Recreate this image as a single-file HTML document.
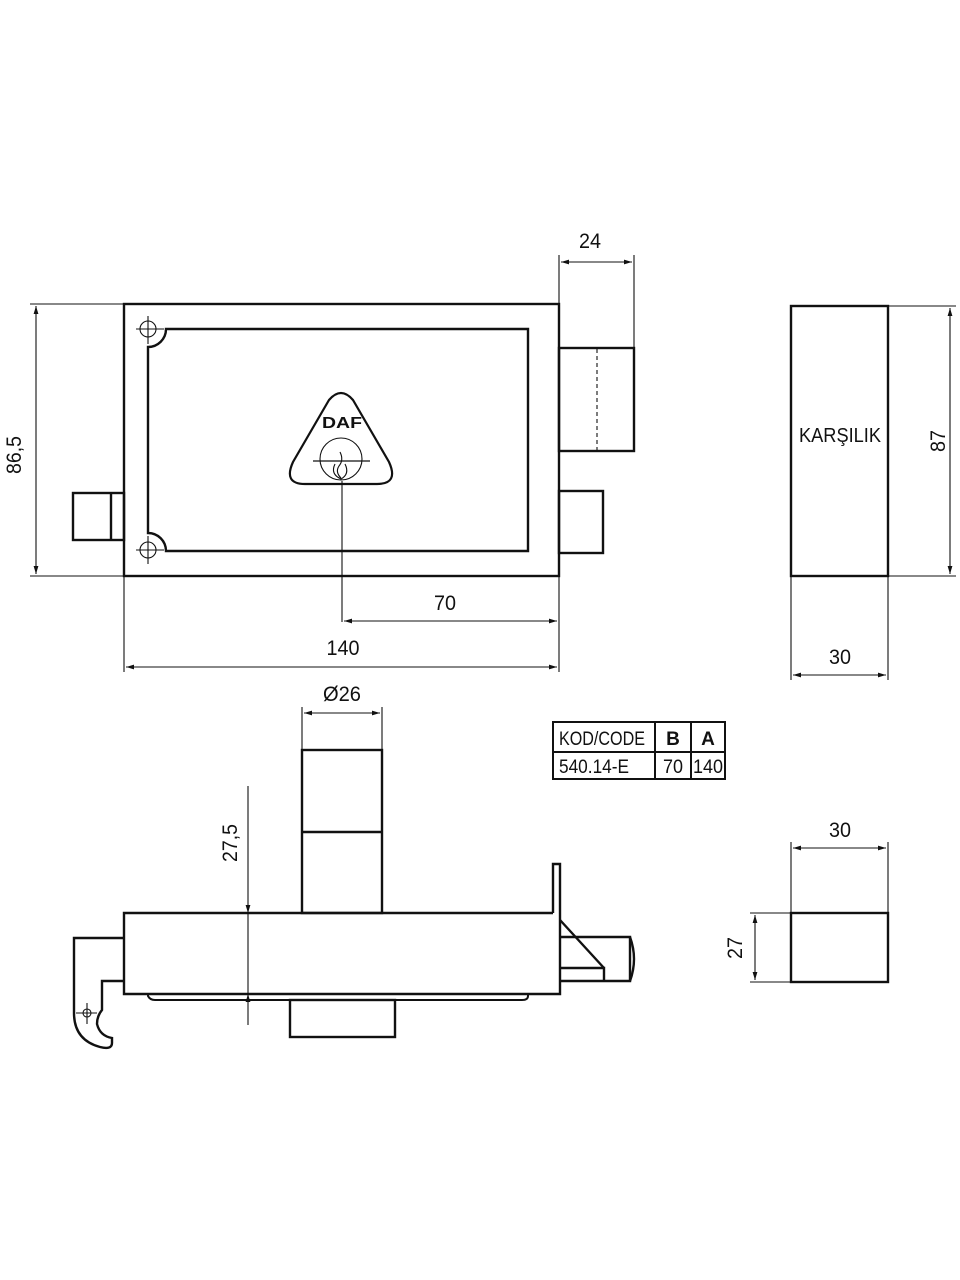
<!DOCTYPE html>
<html><head><meta charset="utf-8"><style>
html,body{margin:0;padding:0;background:#fff}
svg{display:block}
text{font-family:"Liberation Sans",sans-serif;fill:#111}
</style></head><body>
<svg width="960" height="1280" viewBox="0 0 960 1280" xmlns="http://www.w3.org/2000/svg">
<defs>
<marker id="a" viewBox="0 0 10 10" refX="10" refY="5" markerWidth="10" markerHeight="8" orient="auto-start-reverse" markerUnits="userSpaceOnUse"><path d="M0,2 L10,5 L0,8 z" fill="#111"/></marker>
</defs>
<g fill="none" stroke="#111" stroke-width="2.4">
<!-- top view -->
<rect x="124" y="304" width="435" height="272"/>
<path d="M166,329 H528 V551 H166 A18,18 0 0 0 148,533 V347 A18,18 0 0 0 166,329 Z"/>
<rect x="73" y="493" width="51" height="47"/>
<line x1="111" y1="493" x2="111" y2="540"/>
<rect x="559" y="348" width="75" height="103"/>
<rect x="559" y="491" width="44" height="62"/>
<path d="M329,400 Q341,386 353,400 L389,462 Q399,484 377,484 L305,484 Q283,484 293,462 Z" stroke-width="2.2"/>
<!-- karsilik -->
<rect x="791" y="306" width="97" height="270"/>
<!-- bottom view -->
<rect x="302" y="750" width="80" height="163"/>
<line x1="302" y1="832" x2="382" y2="832"/>
<path d="M553,913 H124 V994 H560 V864 H553 V913"/>
<path d="M148,994 V996 Q150,1000 155,1000 H522 Q528,1000 528,996 V994" stroke-width="2"/>
<rect x="290" y="1000" width="105" height="37"/>
<path d="M560,937 H630 V981 H560"/>
<path d="M630,937 Q638,959 630,981"/>
<path d="M560,968 H604 V981"/>
<path d="M560,920 L604,968"/>
<path d="M124,938 H74 V1013 Q74,1040 100,1047 Q112,1050 112,1043 V1038 Q100,1036 97,1024 Q97,1016 102,1010 V981 H124"/>
<rect x="791" y="913" width="97" height="69"/>
<!-- table -->
<rect x="553" y="722" width="172" height="57" stroke-width="2"/>
<line x1="553" y1="752" x2="725" y2="752" stroke-width="2"/>
<line x1="655" y1="722" x2="655" y2="779" stroke-width="2"/>
<line x1="691" y1="722" x2="691" y2="779" stroke-width="2"/>
</g>
<g fill="none" stroke="#111" stroke-width="1.1">
<circle cx="148" cy="329" r="8"/><line x1="136" y1="329" x2="164" y2="329"/><line x1="148" y1="316" x2="148" y2="344"/>
<circle cx="148" cy="550" r="8"/><line x1="136" y1="550" x2="164" y2="550"/><line x1="148" y1="536" x2="148" y2="564"/>
<circle cx="341" cy="459" r="21"/><line x1="313" y1="461" x2="370" y2="461" stroke-width="1.3"/>
<path d="M340,452 Q344,460 339,466 Q335,472 341,478 M335,464 Q330,474 341,479 Q350,474 345,464"/>
<line x1="597" y1="349" x2="597" y2="451" stroke-dasharray="4,3"/>
<line x1="342" y1="481" x2="342" y2="622"/>
<circle cx="87" cy="1013" r="4"/><line x1="76" y1="1013" x2="97" y2="1013"/><line x1="87" y1="1003" x2="87" y2="1024"/>
<!-- dims -->
<line x1="30" y1="304" x2="124" y2="304"/><line x1="30" y1="576" x2="124" y2="576"/>
<line x1="36" y1="306" x2="36" y2="574" marker-start="url(#a)" marker-end="url(#a)"/>
<line x1="559" y1="255" x2="559" y2="304"/><line x1="634" y1="255" x2="634" y2="348"/>
<line x1="561" y1="262" x2="632" y2="262" marker-start="url(#a)" marker-end="url(#a)"/>
<line x1="559" y1="576" x2="559" y2="672"/><line x1="124" y1="576" x2="124" y2="672"/>
<line x1="344" y1="621" x2="557" y2="621" marker-start="url(#a)" marker-end="url(#a)"/>
<line x1="126" y1="667" x2="557" y2="667" marker-start="url(#a)" marker-end="url(#a)"/>
<line x1="888" y1="306" x2="956" y2="306"/><line x1="888" y1="576" x2="956" y2="576"/>
<line x1="950" y1="308" x2="950" y2="574" marker-start="url(#a)" marker-end="url(#a)"/>
<line x1="791" y1="576" x2="791" y2="680"/><line x1="888" y1="576" x2="888" y2="680"/>
<line x1="793" y1="675" x2="886" y2="675" marker-start="url(#a)" marker-end="url(#a)"/>
<line x1="302" y1="707" x2="302" y2="750"/><line x1="382" y1="707" x2="382" y2="750"/>
<line x1="304" y1="713" x2="380" y2="713" marker-start="url(#a)" marker-end="url(#a)"/>
<line x1="248" y1="786" x2="248" y2="913" marker-end="url(#a)"/>
<line x1="248" y1="913" x2="248" y2="994"/>
<line x1="248" y1="1025" x2="248" y2="994" marker-end="url(#a)"/>
<line x1="791" y1="842" x2="791" y2="913"/><line x1="888" y1="842" x2="888" y2="913"/>
<line x1="793" y1="848" x2="886" y2="848" marker-start="url(#a)" marker-end="url(#a)"/>
<line x1="750" y1="913" x2="791" y2="913"/><line x1="750" y1="982" x2="791" y2="982"/>
<line x1="755" y1="915" x2="755" y2="980" marker-start="url(#a)" marker-end="url(#a)"/>
</g>
<g font-size="21" text-anchor="middle" lengthAdjust="spacingAndGlyphs">
<text x="590" y="248" textLength="22" lengthAdjust="spacingAndGlyphs">24</text>
<text x="445" y="610" textLength="22" lengthAdjust="spacingAndGlyphs">70</text>
<text x="343" y="655" textLength="33" lengthAdjust="spacingAndGlyphs">140</text>
<text x="840" y="664" textLength="22" lengthAdjust="spacingAndGlyphs">30</text>
<text x="840" y="442" font-size="20" textLength="82" lengthAdjust="spacingAndGlyphs">KARŞILIK</text>
<text x="342" y="701" textLength="38" lengthAdjust="spacingAndGlyphs">Ø26</text>
<text x="840" y="837" textLength="22" lengthAdjust="spacingAndGlyphs">30</text>
<text transform="translate(21,455) rotate(-90)" textLength="38" lengthAdjust="spacingAndGlyphs">86,5</text>
<text transform="translate(945,441) rotate(-90)" textLength="22" lengthAdjust="spacingAndGlyphs">87</text>
<text transform="translate(237,843) rotate(-90)" textLength="38" lengthAdjust="spacingAndGlyphs">27,5</text>
<text transform="translate(742,948) rotate(-90)" textLength="22" lengthAdjust="spacingAndGlyphs">27</text>
<text x="342" y="428" font-size="16" font-weight="bold" textLength="40" lengthAdjust="spacingAndGlyphs">DAF</text>
</g>
<g font-size="19">
<text x="559" y="745" textLength="86" lengthAdjust="spacingAndGlyphs">KOD/CODE</text>
<text x="673" y="745" text-anchor="middle" font-weight="bold">B</text>
<text x="708" y="745" text-anchor="middle" font-weight="bold">A</text>
<text x="559" y="773" textLength="70" lengthAdjust="spacingAndGlyphs">540.14-E</text>
<text x="673" y="773" text-anchor="middle" textLength="20" lengthAdjust="spacingAndGlyphs">70</text>
<text x="708" y="773" text-anchor="middle" textLength="30" lengthAdjust="spacingAndGlyphs">140</text>
</g>
</svg>
</body></html>
